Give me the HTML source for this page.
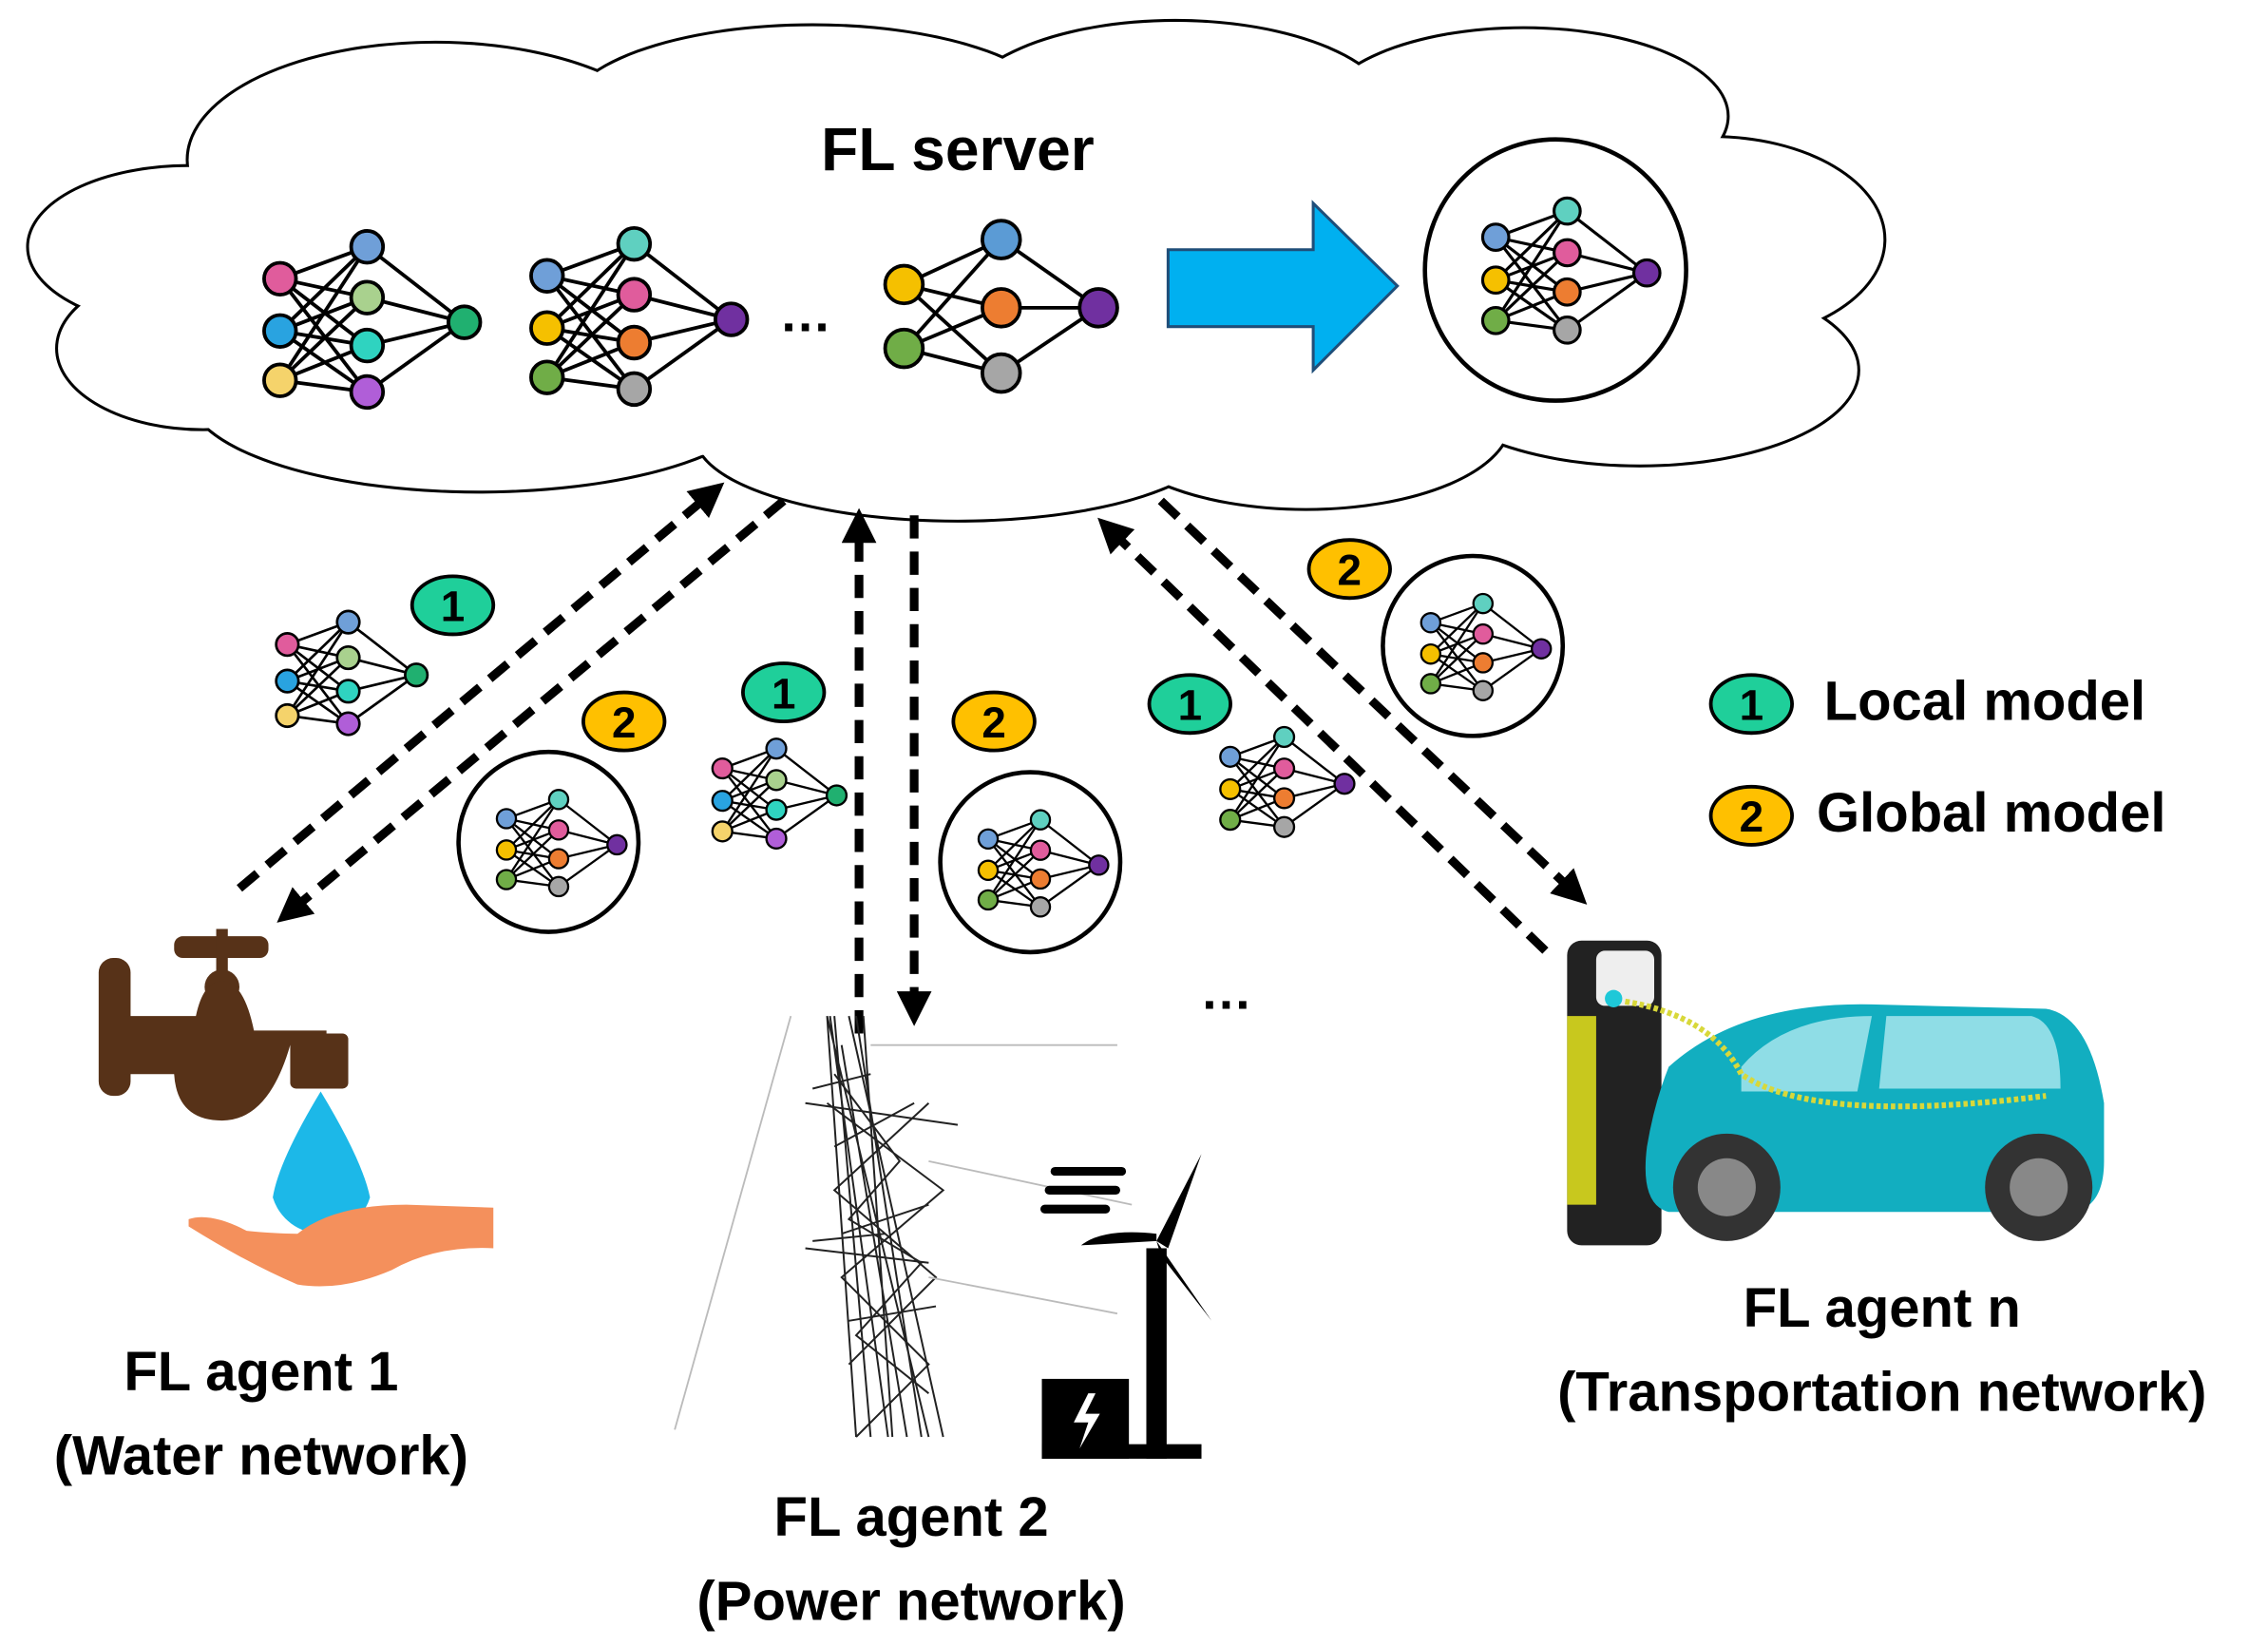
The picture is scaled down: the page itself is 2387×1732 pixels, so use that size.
<!DOCTYPE html>
<html><head><meta charset="utf-8"><style>
html,body{margin:0;padding:0;background:#fff}
svg{display:block}
text{font-family:"Liberation Sans",sans-serif;font-weight:bold;fill:#000}
</style></head><body>
<svg width="2387" height="1732" viewBox="0 0 1563 1134" xmlns="http://www.w3.org/2000/svg">
<defs>
<g id="net">
 <g stroke="#000" stroke-width="2.5">
  <line x1="-60" y1="-30" x2="0" y2="-52"/><line x1="-60" y1="-30" x2="0" y2="-17"/><line x1="-60" y1="-30" x2="0" y2="16"/><line x1="-60" y1="-30" x2="0" y2="48"/>
  <line x1="-60" y1="6" x2="0" y2="-52"/><line x1="-60" y1="6" x2="0" y2="-17"/><line x1="-60" y1="6" x2="0" y2="16"/><line x1="-60" y1="6" x2="0" y2="48"/>
  <line x1="-60" y1="40" x2="0" y2="-52"/><line x1="-60" y1="40" x2="0" y2="-17"/><line x1="-60" y1="40" x2="0" y2="16"/><line x1="-60" y1="40" x2="0" y2="48"/>
  <line x1="0" y1="-52" x2="67" y2="0"/><line x1="0" y1="-17" x2="67" y2="0"/><line x1="0" y1="16" x2="67" y2="0"/><line x1="0" y1="48" x2="67" y2="0"/>
 </g>
</g>
<g id="netA"><use href="#net"/>
 <g stroke="#000" stroke-width="2.5">
 <circle cx="-60" cy="-30" r="11" fill="#e05c9c"/><circle cx="-60" cy="6" r="11" fill="#29a3e0"/><circle cx="-60" cy="40" r="11" fill="#f5d36b"/>
 <circle cx="0" cy="-52" r="11" fill="#6f9fd8"/><circle cx="0" cy="-17" r="11" fill="#a9d18e"/><circle cx="0" cy="16" r="11" fill="#2fd3c0"/><circle cx="0" cy="48" r="11" fill="#b05ed8"/>
 <circle cx="67" cy="0" r="11" fill="#20b070"/></g></g>
<g id="netB"><use href="#net"/>
 <g stroke="#000" stroke-width="2.5">
 <circle cx="-60" cy="-30" r="11" fill="#6f9fd8"/><circle cx="-60" cy="6" r="11" fill="#f5c000"/><circle cx="-60" cy="40" r="11" fill="#70ad47"/>
 <circle cx="0" cy="-52" r="11" fill="#5fd0c0"/><circle cx="0" cy="-17" r="11" fill="#e05c9c"/><circle cx="0" cy="16" r="11" fill="#ed7d31"/><circle cx="0" cy="48" r="11" fill="#a6a6a6"/>
 <circle cx="67" cy="0" r="11" fill="#7030a0"/></g></g>
<g id="b1"><ellipse rx="28" ry="20" fill="#1fcf9a" stroke="#000" stroke-width="2.5"/><text y="11" text-anchor="middle" font-size="30">1</text></g>
<g id="b2"><ellipse rx="28" ry="20" fill="#ffc000" stroke="#000" stroke-width="2.5"/><text y="11" text-anchor="middle" font-size="30">2</text></g>
<marker id="ah" viewBox="0 0 10 10" refX="5" refY="5" markerWidth="4" markerHeight="4" orient="auto"><path d="M0,0 L10,5 L0,10z" fill="#000"/></marker>
</defs>

<g stroke="#000" stroke-width="4">
<ellipse cx="300" cy="110" rx="170" ry="80"/><ellipse cx="560" cy="80" rx="170" ry="62"/><ellipse cx="810" cy="80" rx="150" ry="65"/>
<ellipse cx="1050" cy="80" rx="140" ry="60"/><ellipse cx="1180" cy="165" rx="118" ry="70"/><ellipse cx="1130" cy="255" rx="150" ry="65"/>
<ellipse cx="900" cy="290" rx="140" ry="60"/><ellipse cx="660" cy="300" rx="180" ry="58"/><ellipse cx="330" cy="270" rx="200" ry="68"/>
<ellipse cx="140" cy="240" rx="100" ry="55"/><ellipse cx="130" cy="170" rx="110" ry="55"/>
</g>
<g fill="#fff">
<ellipse cx="300" cy="110" rx="170" ry="80"/><ellipse cx="560" cy="80" rx="170" ry="62"/><ellipse cx="810" cy="80" rx="150" ry="65"/>
<ellipse cx="1050" cy="80" rx="140" ry="60"/><ellipse cx="1180" cy="165" rx="118" ry="70"/><ellipse cx="1130" cy="255" rx="150" ry="65"/>
<ellipse cx="900" cy="290" rx="140" ry="60"/><ellipse cx="660" cy="300" rx="180" ry="58"/><ellipse cx="330" cy="270" rx="200" ry="68"/>
<ellipse cx="140" cy="240" rx="100" ry="55"/><ellipse cx="130" cy="170" rx="110" ry="55"/>
<ellipse cx="660" cy="190" rx="560" ry="130"/>
</g>
<text x="660" y="117" text-anchor="middle" font-size="42">FL server</text>

<use href="#netA" transform="translate(253,222)"/>
<use href="#netB" transform="translate(437,220)"/>
<g stroke="#000" stroke-width="2.5">
 <line x1="623" y1="196" x2="690" y2="165"/><line x1="623" y1="196" x2="690" y2="212"/><line x1="623" y1="196" x2="690" y2="257"/>
 <line x1="623" y1="240" x2="690" y2="165"/><line x1="623" y1="240" x2="690" y2="212"/><line x1="623" y1="240" x2="690" y2="257"/>
 <line x1="690" y1="165" x2="757" y2="212"/><line x1="690" y1="212" x2="757" y2="212"/><line x1="690" y1="257" x2="757" y2="212"/>
 <circle cx="623" cy="196" r="13" fill="#f5c000"/><circle cx="623" cy="240" r="13" fill="#70ad47"/>
 <circle cx="690" cy="165" r="13" fill="#5b9bd5"/><circle cx="690" cy="212" r="13" fill="#ed7d31"/><circle cx="690" cy="257" r="13" fill="#a6a6a6"/>
 <circle cx="757" cy="212" r="13" fill="#7030a0"/>
</g>
<text x="555" y="228" text-anchor="middle" font-size="36">…</text>
<path d="M805,172 H905 V140 L963,197 L905,255 V225 H805 Z" fill="#00b0f0" stroke="#1f4e79" stroke-width="2"/>
<circle cx="1072" cy="186" r="90" fill="none" stroke="#000" stroke-width="3"/>
<use href="#netB" transform="translate(1080,188) scale(0.82)"/>

<g stroke="#000" stroke-width="6" stroke-dasharray="16 9" fill="none" marker-end="url(#ah)">
<line x1="165" y1="612" x2="490" y2="340"/>
<line x1="540" y1="345" x2="200" y2="628"/>
<line x1="592" y1="712" x2="592" y2="362"/>
<line x1="630" y1="355" x2="630" y2="695"/>
<line x1="1065" y1="655" x2="765" y2="365"/>
<line x1="800" y1="345" x2="1085" y2="615"/>
</g>

<use href="#b1" x="312" y="417"/><use href="#b2" x="430" y="497"/><use href="#b1" x="540" y="477"/>
<use href="#b2" x="685" y="497"/><use href="#b1" x="820" y="485"/><use href="#b2" x="930" y="392"/>
<use href="#b1" x="1207" y="485"/><use href="#b2" x="1207" y="562"/>
<text x="1257" y="496" font-size="38">Local model</text>
<text x="1252" y="573" font-size="38">Global model</text>

<use href="#netA" transform="translate(240,465) scale(0.7)"/>
<use href="#netA" transform="translate(535,548) scale(0.62)"/>
<use href="#netB" transform="translate(885,540) scale(0.62)"/>
<circle cx="378" cy="580" r="62" fill="none" stroke="#000" stroke-width="3"/><use href="#netB" transform="translate(385,582) scale(0.6)"/>
<circle cx="710" cy="594" r="62" fill="none" stroke="#000" stroke-width="3"/><use href="#netB" transform="translate(717,596) scale(0.6)"/>
<circle cx="1015" cy="445" r="62" fill="none" stroke="#000" stroke-width="3"/><use href="#netB" transform="translate(1022,447) scale(0.6)"/>
<text x="845" y="695" text-anchor="middle" font-size="36">…</text>

<g fill="#573218">
<rect x="120" y="645" width="65" height="15" rx="6"/><rect x="149" y="640" width="8" height="40"/>
<circle cx="153" cy="680" r="12"/><rect x="68" y="660" width="22" height="95" rx="10"/>
<path d="M85,700 H135 Q140,676 153,676 Q168,676 175,710 H225 V740 H215 V720 H200 Q185,772 153,772 Q122,772 120,740 H85Z"/>
<rect x="200" y="712" width="40" height="38" rx="4"/>
</g>
<path d="M221,752 Q250,800 255,825 A35,35 0 0 1 188,825 Q192,800 221,752Z" fill="#1cb8e8"/>
<path d="M130,840 Q145,835 170,848 Q190,850 205,850 Q230,830 280,830 L340,832 V860 Q300,858 270,875 Q235,890 205,885 Q170,870 130,845Z" fill="#f4905c"/>

<g stroke="#222" stroke-width="1.3" fill="none">
<path d="M570,700 L640,990 M570,700 L590,990 M575,700 L600,990 M585,700 L650,990 M580,720 L625,990 M595,700 L615,990 M572,700 L612,990 M590,700 L635,990"/>
<path d="M570,760 L650,820 L580,880 L640,940 L590,990 M640,760 L575,820 L645,880 L585,940 M575,790 L630,760 M580,850 L640,830 M585,910 L645,900 M575,740 L620,800 L585,840 L635,870 L590,920 L640,960"/>
<path d="M555,760 L660,775 M555,860 L640,870 M560,750 L600,740 M560,855 L610,850"/>
</g>
<g stroke="#bbb" stroke-width="1.2"><line x1="600" y1="720" x2="770" y2="720"/><line x1="640" y1="800" x2="780" y2="830"/><line x1="640" y1="880" x2="770" y2="905"/><line x1="465" y1="985" x2="545" y2="700"/></g>
<g fill="#000">
<rect x="724" y="804" width="52" height="6" rx="3"/><rect x="720" y="817" width="52" height="6" rx="3"/><rect x="717" y="830" width="48" height="6" rx="3"/>
<rect x="790" y="860" width="14" height="145"/><path d="M797,855 L828,795 L805,860Z M797,855 L835,910 L800,865Z M797,855 L745,858 Q760,846 797,850Z"/>
<rect x="718" y="950" width="60" height="55"/><rect x="718" y="995" width="110" height="10"/>
</g>
<path d="M750,960 L740,980 L750,980 L744,998 L758,974 L748,974 L755,960Z" fill="#fff"/>

<rect x="1080" y="648" width="65" height="210" rx="10" fill="#222"/>
<rect x="1080" y="700" width="20" height="130" fill="#c8c81e"/>
<rect x="1100" y="655" width="40" height="38" rx="6" fill="#eee"/>
<circle cx="1112" cy="688" r="6" fill="#1ec8d8"/>
<path d="M1150,735 Q1200,690 1290,692 L1410,695 Q1440,700 1450,760 V800 Q1450,830 1430,835 H1150 Q1130,830 1135,790 Q1140,760 1150,735Z" fill="#12aec0"/>
<path d="M1200,735 Q1230,700 1290,700 L1280,752 H1200Z M1300,700 H1400 Q1420,705 1420,750 H1295Z" fill="#8fdde6"/>
<circle cx="1190" cy="818" r="37" fill="#333"/><circle cx="1190" cy="818" r="20" fill="#888"/>
<circle cx="1405" cy="818" r="37" fill="#333"/><circle cx="1405" cy="818" r="20" fill="#888"/>
<path d="M1120,690 Q1180,700 1200,740 Q1250,775 1410,755" stroke="#d8d83a" stroke-width="4" fill="none" stroke-dasharray="3 2"/>

<g font-size="38" text-anchor="middle">
<text x="180" y="958">FL agent 1</text><text x="180" y="1016">(Water network)</text>
<text x="628" y="1058">FL agent 2</text><text x="628" y="1116">(Power network)</text>
<text x="1297" y="914">FL agent n</text><text x="1297" y="972">(Transportation network)</text>
</g>
</svg>
</body></html>
